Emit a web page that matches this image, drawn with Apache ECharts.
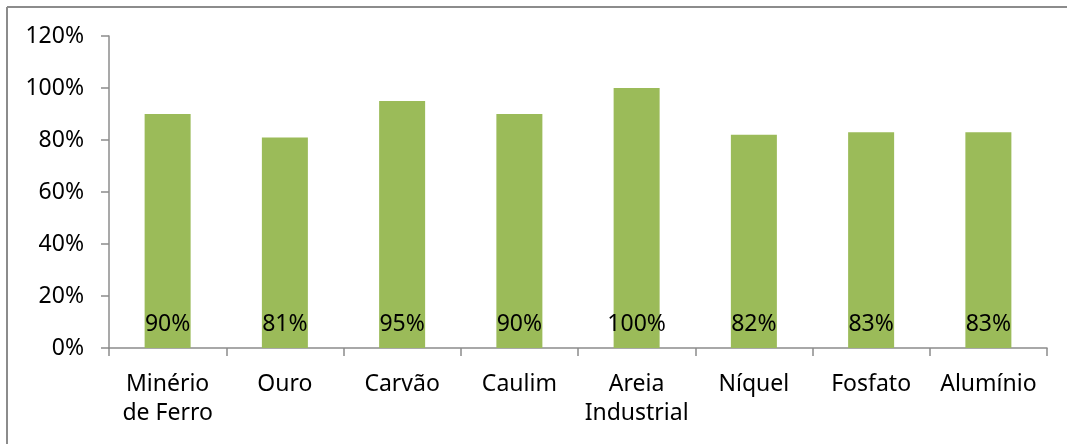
<!DOCTYPE html>
<html>
<head>
<meta charset="utf-8">
<script src="https://cdn.jsdelivr.net/npm/echarts@6/dist/echarts.min.js"></script>
<style>
  html, body { margin: 0; padding: 0; background: #fff; }
  #chart { width: 1067px; height: 444px; }
</style>
</head>
<body>
<div id="chart"></div>
<script>
// categories and values (percent)
const categories = ['Minério\nde Ferro', 'Ouro', 'Carvão', 'Caulim', 'Areia\nIndustrial', 'Níquel', 'Fosfato', 'Alumínio']
const shares = [90, 81, 95, 90, 100, 82, 83, 83]
const yTicks = [0, 20, 40, 60, 80, 100, 120]

const chart = echarts.init(document.getElementById('chart'))
const font = '"Noto Sans", sans-serif'

chart.setOption({
  animation: false,
  textStyle: { fontFamily: font },
  grid: { left: 109, right: 20, top: 36, bottom: 96 },
  graphic: [
    // outer chart frame (only top/left edges visible)
    { type: 'line', shape: { x1: 7, y1: 7, x2: 1067, y2: 7 }, style: { stroke: '#8c8c8c', lineWidth: 2 } },
    { type: 'line', shape: { x1: 7, y1: 7, x2: 7, y2: 444 }, style: { stroke: '#8c8c8c', lineWidth: 2 } }
  ],
  xAxis: {
    type: 'category',
    data: categories,
    axisLine: { lineStyle: { color: '#8c8c8c', width: 1.5 } },
    axisTick: { show: true, alignWithLabel: false, length: 8, lineStyle: { color: '#8c8c8c', width: 1.5 } },
    axisLabel: { color: '#000', fontSize: 23, fontFamily: font, margin: 22, lineHeight: 29, interval: 0 }
  },
  yAxis: {
    type: 'value',
    min: yTicks[0],
    max: yTicks[yTicks.length - 1],
    interval: 20,
    splitLine: { show: false },
    axisLine: { show: true, lineStyle: { color: '#8c8c8c', width: 1.5 } },
    axisTick: { show: true, length: 8, lineStyle: { color: '#8c8c8c', width: 1.5 } },
    axisLabel: { color: '#000', fontSize: 23, fontFamily: font, margin: 25, formatter: '{value}%' }
  },
  series: [
    {
      type: 'bar',
      data: shares,
      barWidth: 46,
      itemStyle: { color: '#9bbb59' },
      label: {
        show: true,
        position: 'insideBottom',
        distance: 12,
        color: '#000',
        fontSize: 23,
        fontFamily: font,
        formatter: '{c}%'
      }
    }
  ]
})
</script>
</body>
</html>
